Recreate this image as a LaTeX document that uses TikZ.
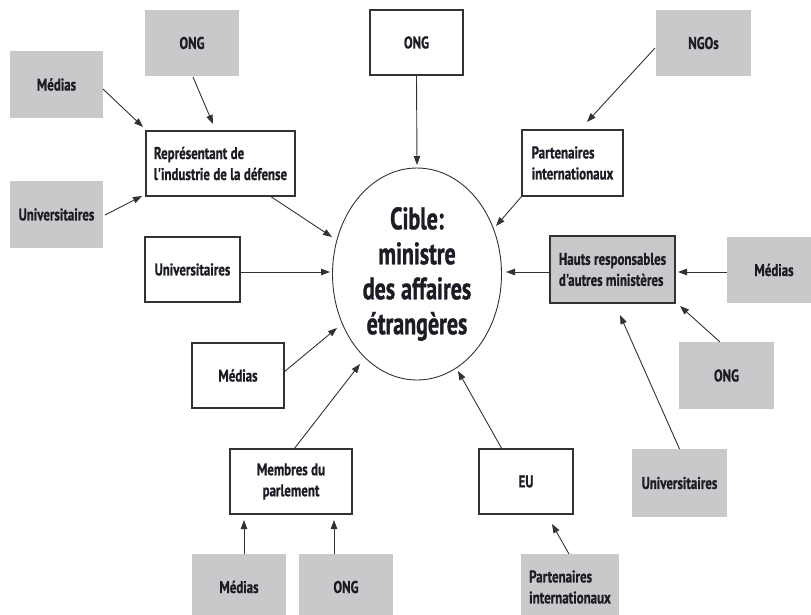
\documentclass[tikz,border=0pt]{standalone}
\usepackage{fontspec}
\newfontfamily\cfont{PT Sans}[FakeStretch=0.76, BoldFeatures={FakeBold=0.9}]
\newfontfamily\bfont{PT Sans}[FakeStretch=0.71, BoldFeatures={FakeBold=1.1}]
\usetikzlibrary{calc,arrows.meta,shapes.geometric}
\definecolor{boxgray}{RGB}{200,201,203}
\definecolor{ink}{RGB}{28,28,36}
\definecolor{linec}{RGB}{50,50,50}
\newcommand\lblfont{\cfont\bfseries\fontsize{17}{21}\selectfont\spaceskip 3.4pt plus 1pt minus 0.5pt\relax}
\newcommand\ciblefont{\bfont\bfseries\fontsize{31}{35}\selectfont\spaceskip 6pt plus 1pt minus 1pt\relax}
\begin{document}
\begin{tikzpicture}[x=1pt,y=-1pt,
  lbl/.style={font=\lblfont, text=ink, inner sep=0pt, outer sep=0pt},
  gbox/.style={lbl, fill=boxgray, align=center},
  wbox/.style={lbl, draw=linec, line width=1.1pt, fill=white, align=center},
  arr/.style={draw=linec, line width=0.9pt, -{Triangle[length=9pt,width=6.5pt]}}
]
\useasboundingbox (0,0) rectangle (811,614);
\clip (0,0) rectangle (811,614);

% central target
\node[ellipse, draw=linec, line width=0.9pt, minimum width=169pt, minimum height=212pt,
      inner sep=0pt, outer sep=0pt, align=center, text=ink, font=\ciblefont] (cible) at (417,274)
  {Cible:\\ministre\\des affaires\\étrangères};

% top-left cluster
\node[gbox, minimum width=94pt, minimum height=66pt] (ongTL) at (192,43) {ONG};
\node[gbox, minimum width=93pt, minimum height=67pt] (mediasTL) at (56.5,84.5) {Médias};
\node[wbox, minimum width=149pt, minimum height=65pt, align=left] (rep) at (220.5,163.5)
  {Représentant de\\l'industrie de la défense};
\node[gbox, minimum width=93pt, minimum height=67pt] (univTL) at (56.5,214.5) {Universitaires};

% top
\node[wbox, minimum width=93pt, minimum height=65pt] (ongT) at (416.5,42.5) {ONG};
\node[gbox, minimum width=95pt, minimum height=66pt] (ngos) at (703.5,43) {NGOs};
\node[wbox, minimum width=101pt, minimum height=66pt, align=left] (partT) at (572.5,163)
  {Partenaires\\internationaux};

% middle
\node[wbox, minimum width=95pt, minimum height=65pt] (univL) at (192.5,269.5) {Universitaires};
\node[lbl, fill=boxgray, draw=linec, line width=1.1pt, minimum width=125pt, minimum height=67pt, align=left] (hauts) at (612.5,269.5)
  {Hauts responsables\\d'autres ministères};
\node[gbox, minimum width=94pt, minimum height=66pt] (mediasR) at (774,270) {Médias};
\node[wbox, minimum width=92pt, minimum height=65pt] (mediasL) at (238,375.5) {Médias};
\node[gbox, minimum width=95pt, minimum height=67pt] (ongR) at (726.5,375.5) {ONG};

% lower row
\node[wbox, minimum width=122pt, minimum height=65pt] (memb) at (291,481.5) {Membres du\\parlement};
\node[wbox, minimum width=94pt, minimum height=65pt] (eu) at (526,481.5) {EU};
\node[gbox, minimum width=95pt, minimum height=68pt] (univR) at (679.5,483) {Universitaires};

% bottom row
\node[gbox, minimum width=94pt, minimum height=66pt] (mediasB) at (239,587) {Médias};
\node[gbox, minimum width=94pt, minimum height=66pt] (ongB) at (346,587) {ONG};
\node[gbox, minimum width=98pt, minimum height=66pt, align=left] (partB) at (570,587)
  {Partenaires\\internationaux};

% connectors
\draw[arr] ($(mediasTL.east)+(0,4.5)$) -- ($(rep.north west)+(-3,-4)$);
\draw[arr] ($(ongTL.south)+(1,1)$) -- ($(rep.north west)+(67,-7)$);
\draw[arr] ($(univTL.east)+(2,0.5)$) -- ($(rep.south west)+(-4,0)$);
\draw[arr] ($(rep.south east)+(-25,0)$) -- ($(cible.center)+(-85,-37)$);
\draw[arr] (ongT.south) -- ($(cible.center)+(0,-109)$);
\draw[arr] ($(ngos.west)+(-1,5)$) -- ($(partT.north)+(14.5,-8)$);
\draw[arr] (partT.south west) -- ($(cible.center)+(79,-48)$);
\draw[arr] ($(univL.east)+(0,2.5)$) -- ($(cible.center)+(-87,-2)$);
\draw[arr] ($(hauts.west)+(0,2.5)$) -- ($(cible.center)+(89,-2)$);
\draw[arr] ($(mediasR.west)+(0,2)$) -- ($(hauts.east)+(3,2.5)$);
\draw[arr] ($(ongR.north)+(-6.5,0)$) -- ($(hauts.south east)+(5,3)$);
\draw[arr] (univR.north) -- ($(hauts.south)+(7.5,12)$);
\draw[arr] ($(mediasL.east)+(0,-3.5)$) -- ($(cible.center)+(-80,54)$);
\draw[arr] ($(memb.north)+(3,0)$) -- ($(cible.center)+(-57,90)$);
\draw[arr] ($(eu.north)+(-24,0)$) -- ($(cible.center)+(41,97)$);
\draw[arr] ($(mediasB.north)+(5,0)$) -- ($(memb.south west)+(14,6)$);
\draw[arr] ($(ongB.north)+(-12,0)$) -- ($(memb.south east)+(-18,6)$);
\draw[arr] ($(partB.north)+(-1,0)$) -- ($(eu.south)+(26,10)$);
\end{tikzpicture}
\end{document}
